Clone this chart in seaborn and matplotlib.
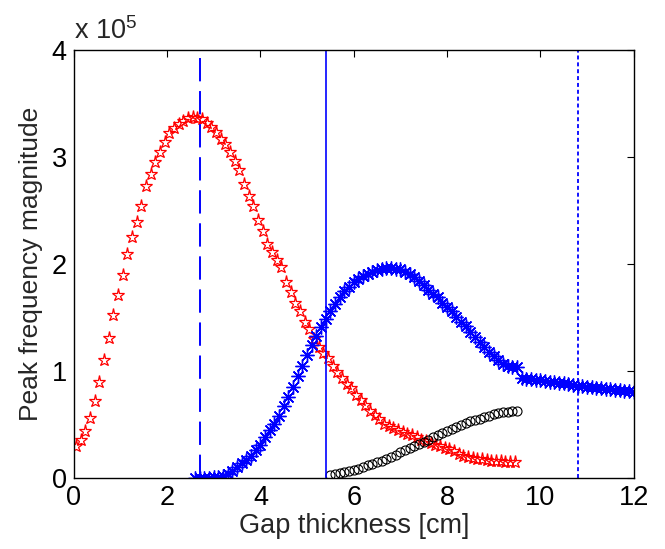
import numpy as np
import pandas as pd
import matplotlib
matplotlib.use("Agg")
import matplotlib.pyplot as plt
import seaborn as sns

# Peak magnitudes, in units of 1e5
SCALE = 1e5

red_gap = [round(0.05 + 0.1 * k, 2) for k in range(95)]
red_mag = [0.30, 0.36, 0.44, 0.56, 0.72, 0.90, 1.10, 1.31, 1.52, 1.71,
           1.90, 2.09, 2.25, 2.39, 2.54, 2.73, 2.84, 2.95, 3.05, 3.14,
           3.22, 3.27, 3.31, 3.34, 3.36, 3.37, 3.365, 3.355, 3.32, 3.28,
           3.23, 3.17, 3.12, 3.05, 2.96, 2.88, 2.75, 2.64, 2.54, 2.41,
           2.31, 2.19, 2.11, 2.04, 1.97, 1.83, 1.74, 1.64, 1.56, 1.46,
           1.39, 1.30, 1.23, 1.17, 1.12, 1.05, 0.99, 0.94, 0.88, 0.84,
           0.78, 0.73, 0.68, 0.63, 0.59, 0.55, 0.51, 0.49, 0.47, 0.45,
           0.43, 0.41, 0.40, 0.38, 0.36, 0.35, 0.33, 0.31, 0.30, 0.28,
           0.27, 0.25, 0.23, 0.21, 0.20, 0.19, 0.18, 0.175, 0.17, 0.165,
           0.16, 0.16, 0.155, 0.155, 0.15]

blue_gap = [round(2.6 + 0.1 * k, 2) for k in range(95)]
blue_mag = [0.00, 0.00, 0.005, 0.005, 0.01, 0.015, 0.02, 0.04, 0.07, 0.10,
            0.14, 0.17, 0.21, 0.26, 0.31, 0.38, 0.45, 0.51, 0.58, 0.67,
            0.76, 0.85, 0.95, 1.05, 1.15, 1.24, 1.33, 1.41, 1.49, 1.56,
            1.63, 1.69, 1.75, 1.79, 1.83, 1.86, 1.89, 1.91, 1.93, 1.94,
            1.95, 1.96, 1.96, 1.955, 1.95, 1.93, 1.91, 1.88, 1.84, 1.80,
            1.76, 1.72, 1.69, 1.64, 1.60, 1.56, 1.51, 1.46, 1.42, 1.37,
            1.32, 1.27, 1.23, 1.18, 1.14, 1.10, 1.07, 1.05, 1.04, 1.04,
            0.94, 0.93, 0.925, 0.92, 0.915, 0.91, 0.90, 0.895, 0.89, 0.885,
            0.88, 0.87, 0.865, 0.86, 0.855, 0.85, 0.845, 0.84, 0.835, 0.83,
            0.825, 0.82, 0.815, 0.81, 0.805]

black_gap = [round(5.5 + 0.1 * k, 2) for k in range(41)]
black_mag = [0.03, 0.04, 0.05, 0.06, 0.07, 0.08, 0.09, 0.10, 0.12, 0.13,
             0.15, 0.16, 0.18, 0.20, 0.22, 0.24, 0.26, 0.28, 0.30, 0.32,
             0.34, 0.36, 0.38, 0.40, 0.42, 0.44, 0.46, 0.48, 0.50, 0.52,
             0.53, 0.545, 0.555, 0.57, 0.585, 0.595, 0.605, 0.615, 0.62, 0.625,
             0.63]

# Reference gap positions [cm]
marker_lines = [2.7, 5.4, 10.8]

x_ticks = [0, 2, 4, 6, 8, 10, 12]
y_ticks = [0, 1, 2, 3, 4]

sns.set_style("white")
plt.rcParams["font.family"] = ["Liberation Sans", "DejaVu Sans"]
plt.rcParams["mathtext.fontset"] = "custom"
plt.rcParams["mathtext.rm"] = "Liberation Sans"

fig = plt.figure(figsize=(6.65, 5.49), dpi=100)
ax = fig.add_axes([0.111, 0.129, 0.842, 0.780])

red_df = pd.DataFrame({"gap": red_gap, "mag": np.array(red_mag) * SCALE})
blue_df = pd.DataFrame({"gap": blue_gap, "mag": np.array(blue_mag) * SCALE})
black_df = pd.DataFrame({"gap": black_gap, "mag": np.array(black_mag) * SCALE})

sns.lineplot(data=red_df, x="gap", y="mag", ax=ax, estimator=None, sort=False,
             linestyle="", marker="*", markersize=9.5, markerfacecolor="none",
             markeredgecolor="red", markeredgewidth=0.9, color="red")
sns.lineplot(data=blue_df, x="gap", y="mag", ax=ax, estimator=None, sort=False,
             linestyle="", marker=(8, 2, 0), markersize=10,
             markeredgecolor="blue", markeredgewidth=1.0, color="blue")
sns.lineplot(data=black_df, x="gap", y="mag", ax=ax, estimator=None, sort=False,
             linestyle="", marker="o", markersize=6.5, markerfacecolor="none",
             markeredgecolor="black", markeredgewidth=0.8, color="black")

ax.axvline(marker_lines[0], color="blue", lw=1.4, linestyle=(0, (12, 5)))
ax.axvline(marker_lines[1], color="blue", lw=1.2, linestyle="-")
ax.axvline(marker_lines[2], color="blue", lw=1.3, linestyle=(0, (2.2, 1.6)))

ax.set_xlim(0, 12)
ax.set_ylim(0, 4 * SCALE)
ax.set_xticks(x_ticks)
ax.set_xticklabels([str(t) for t in x_ticks])
ax.set_yticks([t * SCALE for t in y_ticks])
ax.set_yticklabels([str(t) for t in y_ticks])

ax.tick_params(direction="in", length=5, width=0.8, top=True, right=True,
               labelsize=19.5, colors="black", pad=5)
for side in ax.spines.values():
    side.set_visible(True)
    side.set_color("black")
    side.set_linewidth(1.0)

ax.set_xlabel("Gap thickness [cm]", fontsize=19.5, labelpad=1)
ax.set_ylabel("Peak frequency magnitude", fontsize=19, labelpad=6)
ax.text(0.0, 1.012, r"x 10$^{5}$", transform=ax.transAxes, fontsize=19.5,
        ha="left", va="bottom")

fig.savefig("out.png", dpi=100)
